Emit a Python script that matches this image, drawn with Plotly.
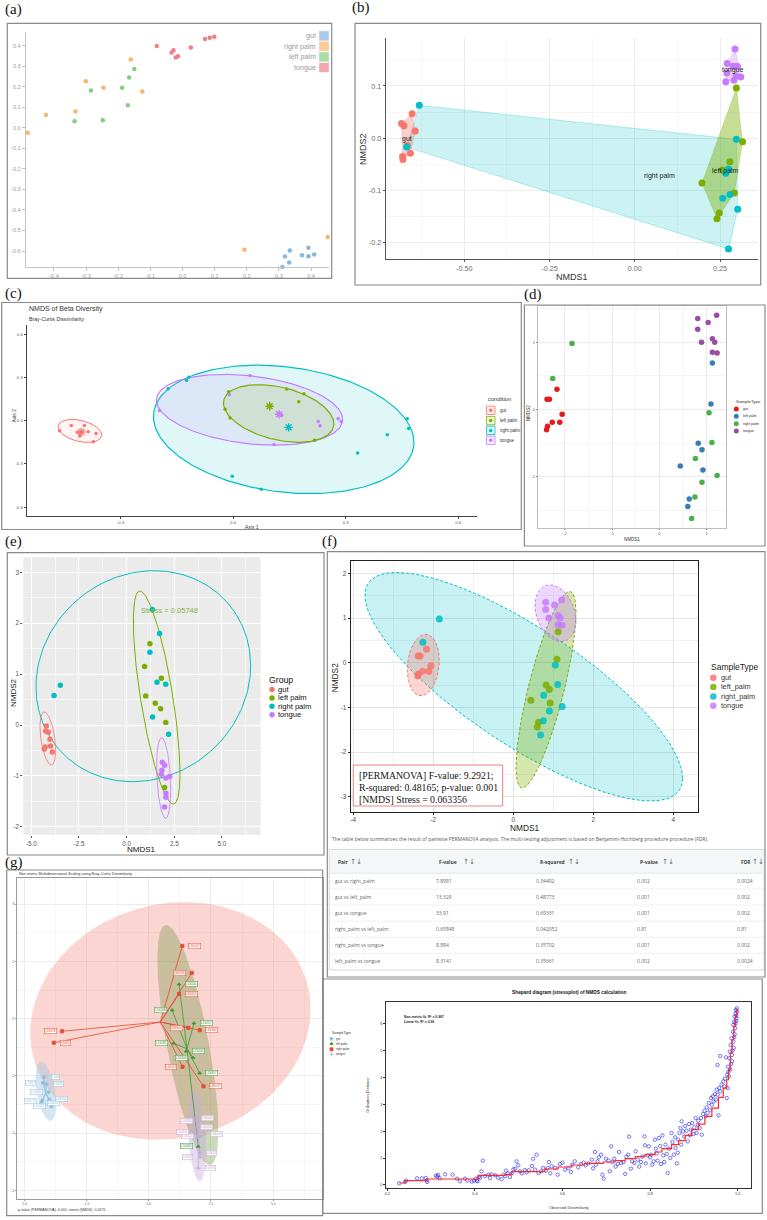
import numpy as np
import plotly.graph_objects as go

# ============================== DATA ==============================
# (a) ordination scatter
a_labels = ["gut", "right palm", "left palm", "tongue"]
a_gut_x = [0.392, 0.334, 0.372, 0.410, 0.392, 0.319, 0.332, 0.311]
a_gut_y = [-0.584, -0.597, -0.620, -0.617, -0.625, -0.627, -0.656, -0.677]
a_rpalm_x = [-0.161, -0.301, -0.246, -0.125, -0.333, -0.425, -0.482, 0.193, 0.452]
a_rpalm_y = [0.333, 0.227, 0.195, 0.177, 0.080, 0.063, -0.024, -0.593, -0.531]
a_lpalm_x = [0.054, -0.150, -0.166, -0.188, -0.285, -0.170, -0.248, -0.336]
a_lpalm_y = [0.471, 0.286, 0.245, 0.195, 0.182, 0.110, 0.037, 0.032]
a_tongue_x = [-0.080, -0.028, -0.034, -0.021, -0.014, 0.026, 0.070, 0.085, 0.099]
a_tongue_y = [0.398, 0.378, 0.367, 0.343, 0.349, 0.391, 0.433, 0.438, 0.443]
a_xticks = [-0.4, -0.3, -0.2, -0.1, 0.0, 0.1, 0.2, 0.3, 0.4]
a_yticks = [-0.6, -0.5, -0.4, -0.3, -0.2, -0.1, 0.0, 0.1, 0.2, 0.3, 0.4]

# (b) NMDS with convex hulls
b_labels = ["gut", "left palm", "right palm", "tongue"]
b_gut_x = [-0.684, -0.677, -0.653, -0.644, -0.667, -0.658, -0.681, -0.680]
b_gut_y = [0.028, 0.024, 0.047, 0.014, -0.014, -0.029, -0.035, -0.041]
b_lpalm_x = [0.298, 0.316, 0.279, 0.257, 0.197, 0.292, 0.248, 0.241]
b_lpalm_y = [0.096, -0.007, -0.045, -0.061, -0.086, -0.105, -0.143, -0.154]
b_rpalm_x = [-0.632, -0.669, 0.298, 0.275, 0.267, 0.279, 0.258, 0.302, 0.275]
b_rpalm_y = [0.063, -0.017, -0.002, -0.059, -0.067, -0.108, -0.115, -0.136, -0.212]
b_tongue_x = [0.294, 0.271, 0.289, 0.301, 0.270, 0.297, 0.311, 0.291, 0.267]
b_tongue_y = [0.171, 0.143, 0.138, 0.138, 0.125, 0.119, 0.117, 0.111, 0.108]
b_xticks = [-0.50, -0.25, 0.00, 0.25]
b_yticks = [-0.2, -0.1, 0.0, 0.1]

# (c) PCoA with ellipses
c_labels = ["gut", "left palm", "right palm", "tongue"]
c_gut_x = [-0.462, -0.431, -0.415, -0.396, -0.408, -0.386, -0.365, -0.372]
c_gut_y = [-0.069, -0.033, -0.080, -0.033, -0.106, -0.076, -0.088, -0.146]
c_lpalm_x = [-0.012, -0.021, -0.008, 0.143, 0.189, 0.175, 0.217]
c_lpalm_y = [0.201, 0.080, 0.019, 0.220, 0.187, 0.132, -0.135]
c_rpalm_x = [-0.173, -0.124, -0.118, 0.464, 0.468, 0.411, 0.332, -0.002, 0.075]
c_rpalm_y = [0.222, 0.281, 0.302, 0.014, -0.054, -0.097, -0.224, -0.385, -0.475]
c_tongue_x = [-0.196, 0.045, -0.010, 0.129, 0.109, 0.227, 0.232, 0.280, 0.288]
c_tongue_y = [0.071, 0.314, 0.180, 0.038, -0.165, -0.005, -0.035, 0.014, -0.005]
# ellipse: centre x, centre y, half-width x, half-height y, correlation
c_ell_gut = [-0.408, -0.071, 0.058, 0.080, -0.35]
c_ell_lpalm = [0.1215, 0.050, 0.147, 0.200, -0.36]
c_ell_rpalm = [0.135, -0.0605, 0.347, 0.4455, -0.20]
c_ell_tongue = [0.044, 0.0755, 0.248, 0.2455, -0.27]
c_xticks = [-0.3, 0.0, 0.3, 0.6]
c_yticks = [-0.6, -0.3, 0.0, 0.3, 0.6]

# (d) and (f) NMDS (same ordination)
n_labels = ["gut", "left_palm", "right_palm", "tongue"]
n_gut_x = [-2.17, -2.38, -2.33, -2.06, -2.27, -2.11, -2.37, -2.39]
n_gut_y = [0.30, 0.15, 0.15, -0.07, -0.19, -0.19, -0.25, -0.30]
n_lpalm_x = [1.12, 1.09, 0.82, 0.90, 0.44, 0.92, 0.63, 0.60]
n_lpalm_y = [0.69, 0.08, -0.50, -0.60, -0.84, -0.90, -1.33, -1.44]
n_rpalm_x = [-1.85, -2.26, 1.05, 1.11, 0.76, 1.22, 0.90, 0.75, 0.68]
n_rpalm_y = [0.98, 0.46, -0.05, -0.49, -0.73, -0.98, -1.08, -1.30, -1.62]
n_tongue_x = [1.21, 0.81, 1.03, 0.81, 1.12, 1.17, 0.89, 1.12, 1.22]
n_tongue_y = [1.40, 1.35, 1.29, 1.19, 1.05, 1.00, 1.00, 0.85, 0.84]
d_xticks = [-2, -1, 0, 1]
d_yticks = [-1, 0, 1]
f_ell_gut = [-2.25, -0.052, 0.40, 0.688, 0.15]
f_ell_lpalm = [0.817, -0.605, 0.75, 2.197, 0.79]
f_ell_rpalm = [0.2625, -0.538, 3.971, 2.556, -0.80]
f_ell_tongue = [1.054, 1.106, 0.512, 0.635, -0.27]
f_xticks = [-4, -2, 0, 2, 4]
f_yticks = [-3, -2, -1, 0, 1, 2]
f_stats = ["[PERMANOVA] F-value: 9.2921;", "R-squared: 0.48165; p-value: 0.001", "[NMDS] Stress = 0.063356"]

# (e) and (g) NMDS (same ordination)
e_labels = ["gut", "left palm", "right palm", "tongue"]
e_gut_x = [-4.21, -4.25, -4.11, -4.02, -3.99, -4.27, -4.32, -3.90]
e_gut_y = [-0.02, -0.12, -0.14, -0.28, -0.41, -0.43, -0.47, -0.53]
e_lpalm_x = [1.22, 0.94, 1.82, 1.00, 1.50, 1.78, 2.05, 1.99]
e_lpalm_y = [1.60, 1.15, 0.92, 0.57, 0.43, 0.32, 0.05, -1.23]
e_rpalm_x = [1.35, 1.73, 1.22, 1.59, 2.05, -3.48, -3.81, 1.36, 2.20]
e_rpalm_y = [2.27, 1.80, 1.43, 0.84, 0.80, 0.78, 0.58, 0.16, -0.18]
e_tongue_x = [1.87, 1.99, 1.85, 1.82, 2.05, 2.26, 2.06, 2.06, 1.99]
e_tongue_y = [-0.73, -0.79, -0.89, -0.97, -1.04, -1.01, -1.34, -1.42, -1.61]
e_ell_gut = [-4.135, -0.265, 0.411, 0.521, -0.445]
e_ell_lpalm = [1.573, 0.541, 1.224, 2.094, -0.714]
e_ell_rpalm = [0.874, 0.960, 5.629, 2.074, 0.10]
e_ell_tongue = [1.94, -1.042, 0.367, 0.793, -0.283]
e_xticks = [-5.0, -2.5, 0.0, 2.5, 5.0]
e_yticks = [-2, -1, 0, 1, 2, 3]
e_stress = "Stress = 0.05748"
g_gut_ids = ["L1S8", "L1S57", "L1S76", "L1S105", "L2S155", "L2S175", "L2S204", "L2S222"]
g_lpalm_ids = ["L1S140", "L1S208", "L1S257", "L1S281", "L2S240", "L2S309", "L2S357", "L2S382"]
g_rpalm_ids = ["L3S242", "L3S294", "L3S313", "L3S341", "L3S360", "L3S378", "L4S63", "L4S112", "L4S137"]
g_tongue_ids = ["L5S104", "L5S155", "L5S174", "L5S203", "L5S222", "L5S240", "L6S20", "L6S68", "L6S93"]
g_caption = "p-value (PERMANOVA): 0.001; stress (NMDS): 0.0575"

# pairwise PERMANOVA table
tbl_headers = ["Pair", "F-value", "R-squared", "P-value", "FDR"]
tbl_pairs = ["gut vs right_palm", "gut vs left_palm", "gut vs tongue",
             "right_palm vs left_palm", "right_palm vs tongue", "left_palm vs tongue"]
tbl_F = ["7.8981", "13.329", "33.91", "0.65848", "8.884", "8.3141"]
tbl_R2 = ["0.34492", "0.48773", "0.69331", "0.042052", "0.35702", "0.35661"]
tbl_P = ["0.002", "0.001", "0.001", "0.81", "0.001", "0.002"]
tbl_FDR = ["0.0024", "0.002", "0.002", "0.81", "0.002", "0.0024"]

# Shepard diagram
sh_obs = [0.227, 0.240, 0.243, 0.268, 0.279, 0.288, 0.290, 0.291, 0.311, 0.314, 0.316, 0.320, 0.332, 0.349,
          0.359, 0.366, 0.377, 0.383, 0.393, 0.398, 0.402, 0.404, 0.406,
          0.409, 0.412, 0.415, 0.418, 0.423, 0.431, 0.434, 0.438, 0.446, 0.453, 0.461, 0.465, 0.469, 0.471,
          0.475, 0.480, 0.484,
          0.488, 0.492, 0.495, 0.499, 0.503, 0.507, 0.514, 0.518, 0.523, 0.530, 0.533, 0.537, 0.541, 0.545,
          0.551, 0.556, 0.562, 0.566, 0.569, 0.572, 0.575, 0.583, 0.589,
          0.594, 0.600, 0.606, 0.613, 0.619, 0.622, 0.628, 0.636, 0.642, 0.648, 0.653, 0.659, 0.667, 0.670,
          0.674, 0.676, 0.680, 0.683, 0.688, 0.691, 0.694,
          0.699, 0.705, 0.708, 0.711, 0.714, 0.718, 0.721, 0.726, 0.729, 0.734, 0.739, 0.743, 0.746, 0.750,
          0.752, 0.756, 0.759, 0.764, 0.767, 0.772, 0.775, 0.779, 0.782, 0.787, 0.788, 0.790, 0.794,
          0.797, 0.800, 0.802, 0.805, 0.808, 0.811, 0.813, 0.815, 0.817, 0.820, 0.823, 0.825, 0.828, 0.830,
          0.832, 0.835, 0.838, 0.840, 0.843, 0.846, 0.849, 0.851, 0.854, 0.857, 0.858, 0.861, 0.863, 0.864,
          0.867, 0.869, 0.871, 0.872, 0.875, 0.878, 0.880, 0.883, 0.886, 0.889, 0.891, 0.893, 0.896, 0.899,
          0.901, 0.904, 0.906, 0.909, 0.910, 0.913, 0.916, 0.918,
          0.921, 0.924, 0.927, 0.929, 0.931, 0.934, 0.937, 0.939, 0.941, 0.943, 0.945, 0.948, 0.950, 0.952,
          0.954, 0.956, 0.958, 0.960, 0.963, 0.967, 0.969, 0.971, 0.975, 0.977, 0.980,
          0.954, 0.960, 0.973, 0.981, 0.987, 0.982, 0.984, 0.990, 0.986, 0.989, 0.994, 0.990, 0.992, 0.997,
          0.993, 0.995, 0.999, 0.996, 0.998, 0.983, 0.985, 0.987, 0.988, 0.991, 0.992, 0.993, 0.995, 0.996,
          0.997, 0.979, 0.976, 0.978]
sh_ord = [0.062, 0.111, 0.161, 0.248, 0.248, 0.260, 0.173, 0.111, 0.347, 0.310, 0.372, 0.248, 0.396, 0.384,
          0.235, 0.136, 0.235, 0.161, 0.124, 0.161, 0.235, 0.161, 0.136,
          0.297, 0.272, 0.508, 0.904, 0.334, 0.384, 0.260, 0.396, 0.359, 0.272, 0.211, 0.384, 0.322, 0.533,
          0.433, 0.297, 0.433,
          0.582, 0.607, 0.879, 0.731, 0.508, 0.433, 0.557, 0.471, 0.545, 0.706, 0.978, 0.570, 1.127, 0.446,
          0.508, 0.632, 0.533, 0.632, 0.854, 0.433, 0.694, 0.632, 0.384,
          0.780, 0.830, 0.570, 0.632, 0.483, 0.755, 0.879, 0.656, 0.780, 0.830, 0.731, 0.805, 0.941, 0.619,
          1.226, 0.755, 0.879, 1.028, 1.127, 0.384, 0.235,
          0.978, 0.904, 0.508, 1.437, 0.854, 0.978, 0.681, 0.780, 1.226, 0.817, 0.854, 0.409, 1.053, 1.127,
          1.796, 0.607, 0.879, 0.817, 1.251, 0.941, 0.681, 0.854, 1.053, 1.808, 1.474, 0.805, 1.102,
          1.437, 1.028, 1.127, 0.755, 0.879, 1.684, 1.350, 1.176, 0.904, 1.746, 1.449, 0.780, 1.845, 1.102,
          0.854, 1.498, 1.152, 0.446, 1.350, 1.003, 1.932, 1.598, 1.127, 1.771, 1.375, 0.805, 1.201, 1.684,
          1.932, 2.118, 1.498, 2.365, 1.994, 1.808, 2.192, 2.019, 1.622, 2.266, 1.845, 2.056, 2.303, 1.895,
          2.142, 2.489, 1.932, 2.242, 2.390, 2.118, 2.489, 1.870,
          2.638, 2.762, 2.551, 2.885, 2.675, 3.046, 2.799, 3.232, 2.985, 3.294, 3.108, 3.381, 3.170, 3.542,
          3.356, 2.588, 3.604, 3.480, 3.728, 3.851, 3.666, 3.950, 3.232, 3.604, 4.037,
          4.461, 4.796, 4.746, 4.709, 4.833, 4.957, 5.204, 5.328, 5.452, 5.700, 5.824, 5.948, 6.072, 6.196,
          6.258, 6.382, 6.444, 6.506, 6.568, 4.30, 4.50, 4.60, 5.00, 5.10, 5.50, 5.60, 6.00, 6.10,
          6.30, 4.20, 4.10, 4.40]
st_x = [0.227, 0.240, 0.290, 0.408, 0.469, 0.484, 0.560, 0.590, 0.621, 0.651, 0.693, 0.720, 0.743, 0.766,
        0.788, 0.811, 0.827, 0.849, 0.865, 0.880, 0.895, 0.910, 0.925, 0.941, 0.956, 0.967, 0.975, 0.979,
        0.983, 0.987, 0.991, 0.995, 0.998]
st_y = [0.074, 0.161, 0.223, 0.359, 0.396, 0.495, 0.595, 0.669, 0.743, 0.805, 0.855, 0.904, 0.978, 1.053,
        1.127, 1.226, 1.350, 1.498, 1.647, 1.845, 2.056, 2.266, 2.551, 2.861, 3.257, 3.604, 3.913, 4.30,
        4.90, 5.40, 5.90, 6.30, 6.55]
sh_xticks = [0.2, 0.4, 0.6, 0.8, 1.0]
sh_yticks = [0, 1, 2, 3, 4, 5, 6]

# ============================== HELPERS ==============================
W, H = 767, 1220
SANS, SERIF, WEB = "Liberation Sans", "Liberation Serif", "Open Sans"


def px(v):
    return v / W


def py(v):
    return 1 - v / H


fig = go.Figure()
ann, shp = [], []
layout_axes = {}


def axis_pair(n, xpx, ypx, xr, yr, xt, xtt, yt, ytt, fsize, fcolor="#555", tl=2, tcol="#555",
              line=False, lcol="#444", lw=1, mirror=False, grid=False, gcol="#e5e5e5", gw=1,
              xminor=None, yminor=None, mcol="#f0f0f0", mw=0.5, family=SANS):
    sfx = "" if n == 1 else str(n)
    common = dict(autorange=False, tickmode="array", zeroline=False, fixedrange=True,
                  tickfont=dict(size=fsize, color=fcolor, family=family), ticks="outside",
                  ticklen=tl, tickcolor=tcol, tickwidth=0.8, linecolor=lcol, linewidth=lw,
                  mirror=mirror, showgrid=grid, gridcolor=gcol, gridwidth=gw, showline=line)
    xa = dict(common, domain=[px(xpx[0]), px(xpx[1])], range=xr, tickvals=xt, ticktext=xtt,
              anchor="y" + sfx)
    ya = dict(common, domain=[py(ypx[1]), py(ypx[0])], range=yr, tickvals=yt, ticktext=ytt,
              anchor="x" + sfx)
    if xminor is not None:
        xa["minor"] = dict(tickmode="array", tickvals=xminor, showgrid=True, gridcolor=mcol, gridwidth=mw, ticks="")
    if yminor is not None:
        ya["minor"] = dict(tickmode="array", tickvals=yminor, showgrid=True, gridcolor=mcol, gridwidth=mw, ticks="")
    layout_axes["xaxis" + sfx] = xa
    layout_axes["yaxis" + sfx] = ya


def mids(v):
    return [(v[i] + v[i + 1]) / 2 for i in range(len(v) - 1)]


def text(x, y, s, size, color="#333", family=SANS, xa="center", ya="middle", angle=0, ref=None, **kw):
    if ref is None:
        xr, yr, xx, yy = "paper", "paper", px(x), py(y)
    else:
        xr, yr, xx, yy = "x" + ref, "y" + ref, x, y
    ann.append(dict(x=xx, y=yy, xref=xr, yref=yr, text=s, showarrow=False, xanchor=xa, yanchor=ya,
                    textangle=angle, font=dict(size=size, color=color, family=family), **kw))


def rect(x0, y0, x1, y1, color="#999", width=1, fill="rgba(0,0,0,0)", layer="above", dash=None):
    shp.append(dict(type="rect", xref="paper", yref="paper", x0=px(x0), x1=px(x1), y0=py(y1), y1=py(y0),
                    line=dict(color=color, width=width, dash=dash), fillcolor=fill, layer=layer))


def hline(x0, x1, y, color="#ddd", width=1):
    shp.append(dict(type="line", xref="paper", yref="paper", x0=px(x0), x1=px(x1), y0=py(y), y1=py(y),
                    line=dict(color=color, width=width), layer="above"))


def pts(ref, x, y, color, size, symbol="circle", opacity=1.0, lc=None, lw=0):
    fig.add_trace(go.Scatter(x=x, y=y, xaxis="x" + ref, yaxis="y" + ref, mode="markers",
                             marker=dict(color=color, size=size, symbol=symbol, opacity=opacity,
                                         line=dict(color=lc or color, width=lw)),
                             hoverinfo="skip", showlegend=False, cliponaxis=False))


def ellipse(p, n=240):
    cx, cy, rx, ry, rho = p
    t = np.linspace(0, 2 * np.pi, n)
    return cx + rx * np.cos(t), cy + ry * (rho * np.cos(t) + np.sqrt(1 - rho ** 2) * np.sin(t))


def ell(ref, p, color, fill=None, width=1.0, dash=None):
    x, y = ellipse(p)
    fig.add_trace(go.Scatter(x=x, y=y, xaxis="x" + ref, yaxis="y" + ref, mode="lines",
                             fill="toself" if fill else "none", fillcolor=fill,
                             line=dict(color=color, width=width, dash=dash),
                             hoverinfo="skip", showlegend=False))


def hull(xs, ys):
    p = sorted(set(zip(xs, ys)))

    def cross(o, a, b):
        return (a[0] - o[0]) * (b[1] - o[1]) - (a[1] - o[1]) * (b[0] - o[0])
    lo, up = [], []
    for q in p:
        while len(lo) >= 2 and cross(lo[-2], lo[-1], q) <= 0:
            lo.pop()
        lo.append(q)
    for q in reversed(p):
        while len(up) >= 2 and cross(up[-2], up[-1], q) <= 0:
            up.pop()
        up.append(q)
    h = lo[:-1] + up[:-1]
    h.append(h[0])
    return [q[0] for q in h], [q[1] for q in h]


def rgba(hexc, a):
    hexc = hexc.lstrip("#")
    return "rgba(%d,%d,%d,%.2f)" % (int(hexc[0:2], 16), int(hexc[2:4], 16), int(hexc[4:6], 16), a)


# overlay pixel axis for legend keys
layout_axes["xaxis9"] = dict(domain=[0, 1], range=[0, W], visible=False, anchor="y9", fixedrange=True)
layout_axes["yaxis9"] = dict(domain=[0, 1], range=[H, 0], visible=False, anchor="x9", fixedrange=True)


def key(x, y, color, size, symbol="circle", opacity=1.0, lc=None, lw=0):
    pts("9", [x], [y], color, size, symbol, opacity, lc, lw)


GG = {"gut": "#F8766D", "lp": "#7CAE00", "rp": "#00BFC4", "tg": "#C77CFF"}

# ============================== PANEL (a) ==============================
rect(7.3, 23.3, 331.7, 278.3, "#8a8a8a", 1.2)
text(3, 9, "(a)", 15, "#111", SERIF, xa="left")
axis_pair(1, (25.7, 329), (31.7, 267.3), [-0.488, 0.456], [-0.679, 0.468],
          a_xticks, ["%.1f" % v for v in a_xticks], a_yticks, ["%.1f" % v for v in a_yticks],
          5.5, "#9a9a9a", 3, "#c0c0c0", line=True, lcol="#c4c4c4", lw=1)
a_cols = ["#86b8e4", "#f9b56f", "#84cf84", "#ef7f88"]
a_keys = ["#aacbea", "#fccc98", "#a9dca9", "#f1a9ae"]
for (xs, ys), c in zip([(a_gut_x, a_gut_y), (a_rpalm_x, a_rpalm_y), (a_lpalm_x, a_lpalm_y),
                        (a_tongue_x, a_tongue_y)], a_cols):
    pts("", xs, ys, c, 4.5)
for i, (lab, c) in enumerate(zip(a_labels, a_keys)):
    yy = [35.8, 46.2, 56.8, 67.5][i]
    rect(319.3, yy - 4.5, 328.7, yy + 4.5, c, 0.5, c)
    text(317.5, yy, lab, 7.2, "#9a9a9a", xa="right")

# ============================== PANEL (b) ==============================
rect(355, 23.3, 760.7, 285, "#8a8a8a", 1.2)
text(350, 7, "(b)", 15, "#111", SERIF, xa="left")
axis_pair(2, (385.7, 758.3), (38.3, 259), [-0.7305, 0.3623], [-0.2313, 0.1913],
          b_xticks, ["%.2f" % v for v in b_xticks], b_yticks, ["%.1f" % v for v in b_yticks],
          7.2, "#6a6a6a", 2, "#555", line=True, lcol="#555", lw=0.8, grid=True, gcol="#ececec", gw=0.8,
          xminor=[-0.625, -0.375, -0.125, 0.125], yminor=[-0.15, -0.05, 0.05, 0.15], mcol="#f6f6f6")
b_sets = [(b_rpalm_x, b_rpalm_y, GG["rp"], 0.2), (b_lpalm_x, b_lpalm_y, GG["lp"], 0.42),
          (b_gut_x, b_gut_y, GG["gut"], 0.35), (b_tongue_x, b_tongue_y, GG["tg"], 0.3)]
for xs, ys, c, a in b_sets:
    hx, hy = hull(xs, ys)
    fig.add_trace(go.Scatter(x=hx, y=hy, xaxis="x2", yaxis="y2", mode="lines", fill="toself",
                             fillcolor=rgba(c, a), line=dict(color=rgba(c, 0.5), width=0.5),
                             hoverinfo="skip", showlegend=False))
for xs, ys, c in [(b_gut_x, b_gut_y, GG["gut"]), (b_lpalm_x, b_lpalm_y, GG["lp"]),
                  (b_rpalm_x, b_rpalm_y, GG["rp"]), (b_tongue_x, b_tongue_y, GG["tg"])]:
    pts("2", xs, ys, c, 7)
for lab, (xs, ys) in zip(b_labels, [(b_gut_x, b_gut_y), (b_lpalm_x, b_lpalm_y), (b_rpalm_x, b_rpalm_y),
                                    (b_tongue_x, b_tongue_y)]):
    text(float(np.mean(xs)), float(np.mean(ys)), lab, 7, "#222", ref="2")
text(572, 277, "NMDS1", 9, "#333")
text(363, 149, "NMDS2", 9, "#333", angle=-90)

# ============================== PANEL (c) ==============================
rect(1.7, 302.5, 521.3, 529.5, "#8a8a8a", 1.2)
text(3, 293, "(c)", 15, "#111", SERIF, xa="left")
axis_pair(3, (26.6, 477), (325, 516.1), [-0.550, 0.650], [-0.662, 0.664],
          c_xticks, ["%.1f" % v for v in c_xticks], c_yticks, ["%.1f" % v for v in c_yticks],
          4.3, "#555", 2, "#444", line=True, lcol="#444", lw=0.8)
ell("3", c_ell_rpalm, GG["rp"], rgba(GG["rp"], 0.12), 1.2)
ell("3", c_ell_tongue, GG["tg"], rgba(GG["tg"], 0.12), 1.2)
ell("3", c_ell_lpalm, GG["lp"], rgba(GG["lp"], 0.14), 1.2)
ell("3", c_ell_gut, GG["gut"], rgba(GG["gut"], 0.08), 1.0)
c_sets = [(c_gut_x, c_gut_y, GG["gut"]), (c_lpalm_x, c_lpalm_y, GG["lp"]),
          (c_rpalm_x, c_rpalm_y, GG["rp"]), (c_tongue_x, c_tongue_y, GG["tg"])]
for xs, ys, c in c_sets:
    pts("3", xs, ys, c, 3.5)
for xs, ys, c in c_sets:
    pts("3", [float(np.mean(xs))], [float(np.mean(ys))], c, 7, "asterisk-open", lc=c, lw=1.4)
text(26.6, 309.3, "NMDS of Beta Diversity", 7, "#333", xa="left")
text(26.6, 319, "Bray-Curtis Dissimilarity", 5.2, "#333", xa="left")
text(251.8, 527, "Axis 1", 5, "#333")
text(13.6, 416, "Axis 2", 5, "#333", angle=-90)
text(486, 399, "condition", 5.8, "#333", xa="left")
for i, (lab, c) in enumerate(zip(c_labels, [GG["gut"], GG["lp"], GG["rp"], GG["tg"]])):
    yy = [410.3, 420.6, 430.4, 440.3][i]
    rect(486.5, yy - 4.2, 495, yy + 4.2, c, 0.8, rgba(c, 0.12))
    key(490.7, yy, c, 3.5)
    text(497.5, yy, lab, 4.6, "#333", xa="left")

# ============================== PANEL (d) ==============================
rect(524.4, 305, 765, 546, "#8a8a8a", 1.2)
text(522, 294.5, "(d)", 15, "#111", SERIF, xa="left")
axis_pair(4, (538.3, 725.7), (305.5, 527.7), [-2.565, 1.402], [-1.756, 1.544],
          d_xticks, [str(v) for v in d_xticks], d_yticks, [str(v) for v in d_yticks],
          4, "#555", 1.5, "#777", line=True, lcol="#bdbdbd", lw=0.8, mirror=True, grid=True,
          gcol="#ebebeb", gw=0.7, xminor=mids(d_xticks), yminor=[-1.5, -0.5, 0.5, 1.5], mcol="#f5f5f5")
SET1 = {"gut": "#E41A1C", "lp": "#377EB8", "rp": "#4DAF4A", "tg": "#984EA3"}
n_sets = [(n_gut_x, n_gut_y, "gut"), (n_lpalm_x, n_lpalm_y, "lp"), (n_rpalm_x, n_rpalm_y, "rp"),
          (n_tongue_x, n_tongue_y, "tg")]
for xs, ys, k in n_sets:
    pts("4", xs, ys, SET1[k], 5.5)
text(632, 539.5, "NMDS1", 4.5, "#333")
text(528, 413, "NMDS2", 4.5, "#333", angle=-90)
text(734, 401.7, "SampleType", 4.4, "#333", xa="left")
for i, (lab, k) in enumerate(zip(["gut", "left palm", "right palm", "tongue"], ["gut", "lp", "rp", "tg"])):
    yy = [409, 416.3, 423.7, 431][i]
    key(736.3, yy, SET1[k], 5)
    text(740.5, yy, lab, 3.6, "#333", xa="left")

# ============================== PANEL (e) ==============================
rect(7.3, 552.7, 324, 855, "#8a8a8a", 1.2)
text(3, 541, "(e)", 15, "#111", SERIF, xa="left")
axis_pair(5, (23.3, 260.7), (557.3, 835), [-5.42, 7.03], [-2.162, 3.297],
          e_xticks, ["%.1f" % v for v in e_xticks], e_yticks, [str(v) for v in e_yticks],
          6.3, "#555", 2, "#555", grid=True, gcol="#ffffff", gw=1,
          xminor=mids(e_xticks) + [-6.25, 6.25], yminor=mids(e_yticks), mcol="#f7f7f7", mw=0.5)
shp.append(dict(type="rect", xref="x5 domain", yref="y5 domain", x0=0, x1=1, y0=0, y1=1,
                fillcolor="#EBEBEB", line=dict(width=0), layer="below"))
ell("5", e_ell_rpalm, GG["rp"], None, 1.0)
ell("5", e_ell_lpalm, GG["lp"], None, 1.0)
ell("5", e_ell_gut, GG["gut"], None, 0.8)
ell("5", e_ell_tongue, GG["tg"], None, 0.8)
e_sets = [(e_gut_x, e_gut_y, "gut"), (e_lpalm_x, e_lpalm_y, "lp"), (e_rpalm_x, e_rpalm_y, "rp"),
          (e_tongue_x, e_tongue_y, "tg")]
for xs, ys, k in e_sets:
    pts("5", xs, ys, GG[k], 5.5)
text(2.27, 2.26, e_stress, 7.5, "#86B03A", ref="5")
text(141.7, 849, "NMDS1", 8.0, "#111")
text(13, 693, "NMDS2", 8.0, "#111", angle=-90)
text(267, 680, "Group", 8.7, "#111", xa="left")
for i, (lab, k) in enumerate(zip(e_labels, ["gut", "lp", "rp", "tg"])):
    yy = 689.5 + 8.4 * i
    key(272, yy, GG[k], 5.5)
    text(276.5, yy, lab, 7.6, "#111", xa="left", borderpad=0)

# ============================== PANEL (f) ==============================
rect(327.3, 551.7, 765, 977, "#8a8a8a", 1.2)
text(320, 541, "(f)", 15, "#111", SERIF, xa="left")
axis_pair(6, (350.7, 698.3), (561, 811.7), [-4.065, 4.625], [-3.333, 2.275],
          f_xticks, [str(v) for v in f_xticks], f_yticks, [str(v) for v in f_yticks],
          6.4, "#4d4d4d", 2, "#333", line=True, lcol="#222", lw=1, mirror=True, grid=True,
          gcol="#e4e4e4", gw=0.7, xminor=[-3, -1, 1, 3], yminor=mids(f_yticks), mcol="#f1f1f1")
ell("6", f_ell_rpalm, GG["rp"], rgba(GG["rp"], 0.22), 1.0, "3px,2px")
ell("6", f_ell_gut, GG["gut"], rgba(GG["gut"], 0.30), 1.0, "3px,2px")
ell("6", f_ell_lpalm, GG["lp"], rgba(GG["lp"], 0.32), 1.0, "3px,2px")
ell("6", f_ell_tongue, GG["tg"], rgba(GG["tg"], 0.30), 1.0, "3px,2px")
for xs, ys, k in n_sets:
    pts("6", xs, ys, GG[k], 7, opacity=0.85)
rect(353.3, 765, 502.7, 806, "#F08080", 1, "white")
for i, s in enumerate(f_stats):
    text(356.5, [775, 787.3, 799][i], s, 9.8, "#111", SERIF, xa="left")
text(524.5, 827.5, "NMDS1", 8.3, "#222")
text(335, 678.3, "NMDS2", 8.3, "#222", angle=-90)
text(708.5, 666.7, "SampleType", 8.5, "#222", xa="left")
for i, (lab, k) in enumerate(zip(n_labels, ["gut", "lp", "rp", "tg"])):
    yy = [677.7, 686.9, 696.4, 705.8][i]
    key(713.3, yy, GG[k], 6.5, opacity=0.85)
    text(718.5, yy, lab, 7.3, "#333", xa="left")

# table
text(329.5, 838.5, "The table below summarizes the result of pairwise PERMANOVA analysis. "
     "The multi-testing adjustment is based on Benjamini-Hochberg procedure procedure (FDR).",
     4.95, "#555", WEB, xa="left")
rect(329.3, 849.5, 764, 970, "#cfcfcf", 0.8, "white", layer="below")
rect(329.8, 850, 763.5, 873.3, "rgba(0,0,0,0)", 0, "#f4f6f8", layer="below")
hline(329.8, 763.5, 873.3, "#e2e2e2", 0.8)
hdr_x = [337.3, 438.3, 539, 639, 740]
arr_x = [355.5, 468.5, 573.5, 667.5, 757.5]
for h, hx, ax_ in zip(tbl_headers, hdr_x, arr_x):
    text(hx - 1, 861.7, "<b>%s</b>" % h, 4.9, "#444", WEB, xa="left")
    text(ax_, 861.7, "\u2191\u2193", 7.2, "#666", "DejaVu Sans")
col_x = [333, 433.7, 534, 634.7, 735]
for r in range(6):
    yy = 881 + 16.06 * r
    if r > 0:
        hline(329.8, 763.5, yy - 8, "#ececec", 0.8)
    for cx, col in zip(col_x, [tbl_pairs, tbl_F, tbl_R2, tbl_P, tbl_FDR]):
        text(cx, yy, col[r], 5.0, "#666", WEB, xa="left")

# ============================== PANEL (g) ==============================
rect(6.7, 870, 322.7, 1215.7, "#8a8a8a", 1.2)
text(3, 862, "(g)", 15, "#111", SERIF, xa="left")
axis_pair(7, (17, 322.7), (878, 1199.3), [-5.289, 6.988], [-2.152, 3.455],
          e_xticks, ["%.1f" % v for v in e_xticks], e_yticks, [str(v) for v in e_yticks],
          3.3, "#666", 1.2, "#999", line=True, lcol="#9a9a9a", lw=0.6, mirror=True, grid=True,
          gcol="#ececec", gw=0.6, xminor=mids(e_xticks) + [-6.25, 6.25], yminor=mids(e_yticks), mcol="#f6f6f6")
G = {"gut": "#8fc0dd", "lp": "#3a9a34", "rp": "#e8492f", "tg": "#c3a8d8"}
ell("7", e_ell_rpalm, "rgba(0,0,0,0)", "rgba(246,150,140,0.40)", 0)
ell("7", e_ell_lpalm, "rgba(0,0,0,0)", "rgba(110,150,60,0.35)", 0)
ell("7", e_ell_gut, "rgba(0,0,0,0)", "rgba(160,200,225,0.45)", 0)
ell("7", e_ell_tongue, "rgba(0,0,0,0)", "rgba(200,175,220,0.45)", 0)
g_sym = {"gut": "circle", "lp": "triangle-up", "rp": "square", "tg": "cross-thin-open"}
g_ids = {"gut": g_gut_ids, "lp": g_lpalm_ids, "rp": g_rpalm_ids, "tg": g_tongue_ids}
for xs, ys, k in e_sets:
    cx, cy = float(np.mean(xs)), float(np.mean(ys))
    lx, ly = [], []
    for x, y in zip(xs, ys):
        lx += [cx, x, None]
        ly += [cy, y, None]
    fig.add_trace(go.Scatter(x=lx, y=ly, xaxis="x7", yaxis="y7", mode="lines",
                             line=dict(color=G[k], width=0.8), hoverinfo="skip", showlegend=False))
for xs, ys, k in e_sets:
    pts("7", xs, ys, G[k], 3.2, g_sym[k], lc=G[k], lw=0.8)
side_of = {"gut": -1, "lp": -1, "rp": 1, "tg": 1}
for xs, ys, k in e_sets:
    order = sorted(range(len(ys)), key=lambda i: ys[i])
    for rank, j in enumerate(order):
        sx = (12 if rank % 2 == 0 else -12) * side_of[k]
        ann.append(dict(x=xs[j], y=ys[j], xref="x7", yref="y7", text=g_ids[k][j], showarrow=False,
                        xshift=sx, yshift=0,
                        font=dict(size=3.1, color=G[k], family=SANS), bgcolor="rgba(255,255,255,0.85)",
                        bordercolor=G[k], borderwidth=0.5, borderpad=0.3))
text(17, 873.5, "Non-metric Multidimensional Scaling using Bray-Curtis Dissimilarity", 3.8, "#333", xa="left")
text(16, 1210, g_caption, 3.6, "#333", xa="left")
text(329.5, 1032.7, "SampleType", 3.4, "#333", xa="left")
for i, (lab, k) in enumerate(zip(["gut", "left palm", "right palm", "tongue"], ["gut", "lp", "rp", "tg"])):
    yy = [1038.7, 1043.7, 1049.3, 1054.3][i]
    key(331.5, yy, G[k], 3, g_sym[k], lc=G[k], lw=0.8)
    text(334, yy, lab, 3, "#333", xa="left")

# ============================== SHEPARD ==============================
rect(322.7, 979, 762.3, 1213.3, "#8a8a8a", 1.2)
axis_pair(8, (386, 751), (1002, 1188), [0.197, 1.0303], [-0.112, 6.803],
          sh_xticks, ["%.1f" % v for v in sh_xticks], sh_yticks, [str(v) for v in sh_yticks],
          3.8, "#333", 2, "#333", line=True, lcol="#333", lw=0.7, mirror=True)
fig.add_trace(go.Scatter(x=sh_obs, y=sh_ord, xaxis="x8", yaxis="y8", mode="markers",
                         marker=dict(symbol="circle-open", size=3.4, color="rgba(30,30,235,0.75)",
                                     line=dict(width=0.8, color="rgba(30,30,235,0.75)")),
                         hoverinfo="skip", showlegend=False))
fig.add_trace(go.Scatter(x=st_x, y=st_y, xaxis="x8", yaxis="y8", mode="lines", line_shape="hv",
                         line=dict(color="#ff2a2a", width=1.2), hoverinfo="skip", showlegend=False))
text(568.5, 992.7, "<b>Shepard diagram (stressplot) of NMDS calculation</b>", 4.8, "#111")
text(402, 1017, "<b>Non-metric fit, R\u00b2 = 0.997</b>", 3.4, "#222", xa="left")
text(402, 1022, "<b>Linear fit, R\u00b2 = 0.99</b>", 3.4, "#222", xa="left")
text(366.7, 1095, "Ordination Distance", 4, "#333", angle=-90)
text(568.5, 1207, "Observed Dissimilarity", 4, "#333")

# ============================== LAYOUT ==============================
fig.update_layout(width=W, height=H, margin=dict(l=0, r=0, t=0, b=0, pad=0, autoexpand=False),
                  paper_bgcolor="white", plot_bgcolor="rgba(0,0,0,0)", showlegend=False,
                  annotations=ann, shapes=shp, **layout_axes)
fig.write_html("out.html")
